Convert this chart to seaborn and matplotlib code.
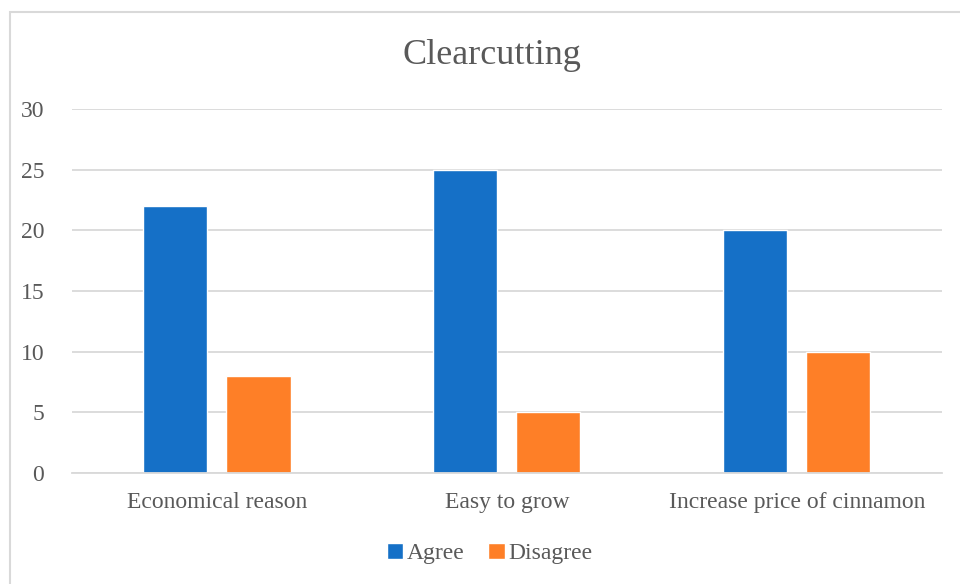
import pandas as pd
import matplotlib.pyplot as plt
import seaborn as sns
from matplotlib.patches import Rectangle

categories = ["Economical reason", "Easy to grow", "Increase price of cinnamon"]
agree = [22, 25, 20]
disagree = [8, 5, 10]
series = ["Agree", "Disagree"]

df = pd.DataFrame({
    "reason": categories * 2,
    "count": agree + disagree,
    "answer": [series[0]] * 3 + [series[1]] * 3,
})

sns.set_style("white")
plt.rcParams['font.family'] = ['Liberation Serif', 'DejaVu Serif']
TXT = '#595959'
GRID = '#d9d9d9'
BLUE = '#1570c7'
ORANGE = '#fe7f27'

fig = plt.figure(figsize=(9.6, 5.84), dpi=100)
ax = fig.add_axes([0.075, 0.19, 0.906, 0.623])

sns.barplot(data=df, x="reason", y="count", hue="answer", palette=[BLUE, ORANGE],
            width=0.573, gap=0.229, saturation=1, ax=ax, legend=True)

ax.set_xlim(-0.5, 2.5)
ax.set_ylim(0, 30)
ax.set_yticks(range(0, 31, 5))
ax.yaxis.grid(True, color=GRID, linewidth=1.3)
ax.set_axisbelow(True)
for s in ['left', 'right', 'top']:
    ax.spines[s].set_visible(False)
ax.spines['bottom'].set_color(GRID)
ax.spines['bottom'].set_linewidth(1.3)
ax.tick_params(axis='both', length=0, labelsize=17, labelcolor=TXT)
ax.tick_params(axis='y', pad=20)
ax.tick_params(axis='x', pad=14)
ax.set_xlabel("")
ax.set_ylabel("")

fig.text(0.512, 0.905, "Clearcutting", ha='center', va='center', fontsize=26, color=TXT)

handles, labels = ax.get_legend_handles_labels()
ax.legend_.remove()
fig.legend(handles, labels, loc='center', bbox_to_anchor=(0.51, 0.052), ncol=2,
           frameon=False, fontsize=17, labelcolor=TXT, handlelength=0.7, handleheight=0.7,
           handletextpad=0.15, columnspacing=1.0)

fig.patches.append(Rectangle((10 / 960, -0.1), 2, 1 - 12 / 584 + 0.1, transform=fig.transFigure,
                             fill=False, edgecolor=GRID, linewidth=1.5))

plt.savefig("out.png", dpi=100, facecolor='white')
